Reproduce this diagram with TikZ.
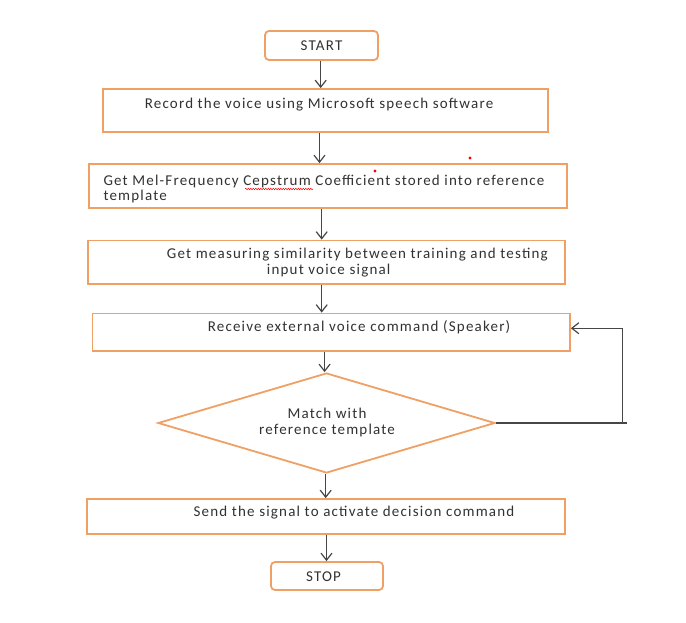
\documentclass[tikz,border=0pt]{standalone}
\usepackage{fontspec}
\setmainfont{Carlito}
\newfontfamily\lblfont[LetterSpace=8]{Carlito}
\usetikzlibrary{arrows.meta,shapes.geometric,decorations.pathmorphing}
\definecolor{boxorange}{RGB}{240,160,100}
\definecolor{txtgray}{RGB}{50,50,50}
\definecolor{arrgray}{RGB}{70,70,70}
\tikzset{
  procbox/.style={draw=boxorange, line width=1.8pt, fill=white, minimum width=#1, inner sep=0pt},
  termbox/.style={draw=boxorange, line width=1.8pt, fill=white, rounded corners=4pt, inner sep=0pt},
  decbox/.style={diamond, draw=boxorange, line width=1.8pt, fill=white, inner sep=0pt, aspect=3.37},
  lbl/.style={text=txtgray, font=\lblfont\fontsize{15}{15.7}\selectfont, inner sep=0pt},
  arr/.style={draw=arrgray, line width=1.2pt, -{Straight Barb[length=7pt,width=11pt]}},
  ln/.style={draw=arrgray, line width=1.2pt}
}
\begin{document}
\begin{tikzpicture}[x=1pt,y=-1pt]
\useasboundingbox (0,0) rectangle (686,622);
\fill[white] (0,0) rectangle (686,622);
% shapes
\node[termbox, minimum width=113pt, minimum height=29pt] (start) at (321.5,45.5) {};
\node[procbox=445pt, minimum height=43pt] (box1) at (325.5,110.5) {};
\node[procbox=478pt, minimum height=44pt] (box2) at (328,186) {};
\node[procbox=477pt, minimum height=43.5pt] (box3) at (326.5,262.25) {};
\node[procbox=477.5pt, minimum height=37.5pt] (box4) at (331.25,332.25) {};
\node[decbox, minimum width=337pt, minimum height=100pt] (dec) at (326.5,423) {};
\node[procbox=478pt, minimum height=35pt] (box5) at (326,516.5) {};
\node[termbox, minimum width=112pt, minimum height=28pt] (stop) at (327,576) {};
% texts
\node[lbl] (tstart) at (321.5,46) {START};
\node[lbl] (t1) at (319,105) {Record the voice using Microsoft speech software};
\node[lbl, align=left, anchor=west] (t2) at (103.3,189) {Get Mel-Frequency Cepstrum Coefficient stored into reference\\template};
\node[lbl, align=left, anchor=west] (t3) at (166.7,262.5) {Get measuring similarity between training and testing\\\hspace*{100pt}input voice signal};
\node[lbl] (t4) at (359,327) {Receive external voice command (Speaker)};
\node[lbl, align=center] (tdec) at (327,422.5) {Match with\\reference template};
\node[lbl] (t5) at (354,513) {Send the signal to activate decision command};
\node[lbl] (tstop) at (323.5,577) {STOP};
% connectors
\draw[arr] ([xshift=-0.8pt]start.south) -- ([xshift=-0.8pt]start.south |- box1.north);
\draw[arr] ([xshift=-6pt]box1.south) -- ([xshift=-6pt]box1.south |- box2.north);
\draw[arr] ([xshift=-6.3pt]box2.south) -- ([xshift=-6.3pt]box2.south |- box3.north);
\draw[arr] ([xshift=-4.8pt]box3.south) -- ([xshift=-4.8pt]box3.south |- box4.north);
\draw[arr] ([xshift=-6.7pt]box4.south) -- ([xshift=-6.7pt]box4.south |- dec.north);
\draw[arr] ([xshift=-0.8pt]dec.south) -- ([xshift=-0.8pt]dec.south |- box5.north);
\draw[arr] ([xshift=0.5pt]box5.south) -- ([xshift=0.5pt]box5.south |- stop.north);
\coordinate (loopend) at (627,423);
\coordinate (loopcorner) at (622.7,328.25);
\draw[ln] (dec.east) -- (loopend);
\draw[arr] (loopcorner |- dec.east) -- (loopcorner) -- ([yshift=4pt]box4.east);
% spell-check marks
\fill[red] (375,171) circle (1.6pt);
\fill[red] (470,158) circle (1.6pt);
\draw[red, line width=0.5pt, decorate, decoration={snake, amplitude=0.7pt, segment length=2.5pt}] (245,189) -- (313,189);
\end{tikzpicture}
\end{document}
